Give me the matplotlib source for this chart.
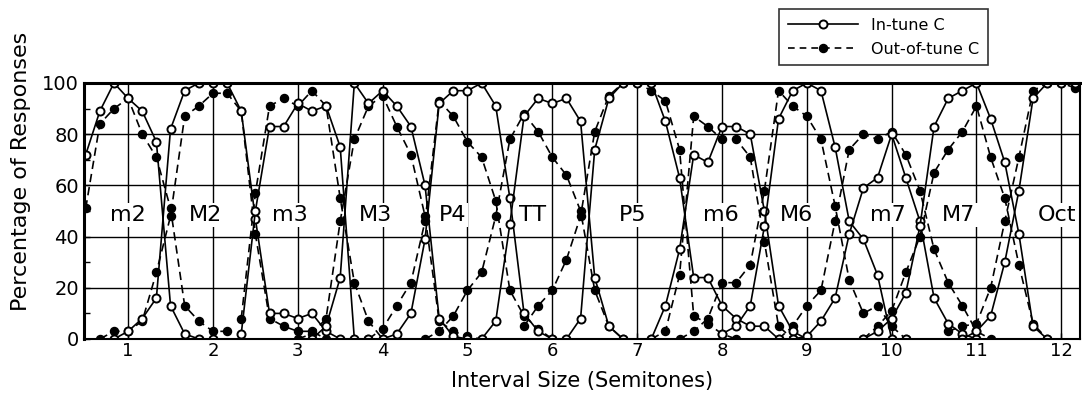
import matplotlib
matplotlib.use("Agg")
import matplotlib.pyplot as plt
from matplotlib.ticker import MultipleLocator

# stimuli were spaced 1/6 semitone apart, starting at 0.5
X0 = 0.5
STEP = 1 / 6

categories = ["m2", "M2", "m3", "M3", "P4", "TT", "P5", "m6", "M6", "m7", "M7", "Oct"]
label_x = [1.0, 1.91, 2.91, 3.92, 4.82, 5.77, 6.95, 7.99, 8.88, 9.96, 10.79, 11.95]
label_y = 48.5

# (index of first stimulus, % responses) for each category
m2_in = (0, [72, 89, 100, 94, 89, 77, 13, 2, 0, 0])
m2_out = (0, [51, 84, 90, 94, 80, 71, 51, 13, 7, 3, 3])
M2_in = (2, [0, 3, 8, 16, 82, 97, 100, 100, 100, 89, 47, 10, 10, 8, 10, 3, 0])
M2_out = (1, [0, 3, 3, 7, 26, 48, 87, 91, 96, 96, 89, 41, 8, 5, 3, 3, 0])
m3_in = (11, [2, 50, 83, 83, 92, 89, 91, 75, 0, 0])
m3_out = (11, [8, 57, 91, 94, 91, 97, 91, 55, 22, 7, 0])
M3_in = (16, [0, 5, 24, 100, 92, 97, 91, 83, 60, 8, 1, 0])
M3_out = (15, [0, 2, 8, 46, 78, 91, 95, 83, 72, 48, 7, 3, 1, 0])
P4_in = (21, [0, 2, 10, 39, 92, 97, 97, 100, 91, 55, 10, 3, 0])
P4_out = (20, [0, 4, 13, 22, 46, 93, 87, 77, 71, 54, 19, 9, 4, 0])
TT_in = (27, [0, 0, 7, 45, 87, 94, 92, 94, 85, 24, 5, 0])
TT_out = (24, [0, 3, 9, 19, 26, 48, 78, 88, 81, 71, 64, 50, 19, 5, 0])
P5_in = (34, [0, 8, 74, 94, 100, 100, 100, 85, 63, 24, 24, 13, 8, 5, 5, 0])
P5_out = (31, [5, 13, 19, 31, 48, 81, 95, 100, 100, 97, 93, 74, 9, 6, 2, 0])
m6_in = (40, [0, 13, 35, 72, 69, 83, 83, 80, 50, 13, 3, 0])
m6_out = (40, [0, 3, 25, 87, 83, 78, 78, 71, 38, 5, 0])
M6_in = (45, [2, 5, 13, 44, 86, 97, 100, 97, 75, 46, 39, 25, 0, 0])
M6_out = (42, [0, 3, 8, 22, 22, 29, 58, 97, 91, 87, 78, 52, 23, 10, 13, 5, 0])
m7_in = (50, [0, 1, 7, 16, 41, 59, 63, 80, 63, 46, 16, 6, 2, 0])
m7_out = (49, [0, 5, 13, 19, 46, 74, 80, 78, 81, 72, 58, 35, 22, 13, 3, 0])
M7_in = (55, [0, 3, 8, 18, 44, 83, 94, 97, 100, 86, 69, 41, 5, 0])
M7_out = (55, [0, 5, 11, 26, 40, 65, 74, 81, 91, 71, 55, 29, 6, 0])
Oct_in = (62, [0, 3, 9, 30, 58, 94, 100, 100, 100])
Oct_out = (61, [3, 5, 6, 20, 46, 71, 97, 100, 100, 98])

in_tune = [m2_in, M2_in, m3_in, M3_in, P4_in, TT_in, P5_in, m6_in, M6_in, m7_in, M7_in, Oct_in]
out_tune = [m2_out, M2_out, m3_out, M3_out, P4_out, TT_out, P5_out, m6_out, M6_out, m7_out, M7_out, Oct_out]


def xs(curve):
    start, vals = curve
    return [X0 + (start + i) * STEP for i in range(len(vals))]


plt.rcParams["font.family"] = ["DejaVu Sans"]
fig = plt.figure(figsize=(10.82, 3.93), dpi=100)
ax = fig.add_axes([84 / 1082, 1 - 339 / 393, 996 / 1082, 256 / 393])

for c in out_tune:
    ax.plot(xs(c), c[1], color="black", lw=1.2, ls=(0, (5, 3)), marker="o",
            ms=5.8, mfc="black", mec="black", zorder=4)
for c in in_tune:
    ax.plot(xs(c), c[1], color="black", lw=1.2, ls="-", marker="o",
            ms=5.8, mfc="white", mec="black", mew=1.4, zorder=5)

for name, lx in zip(categories, label_x):
    ax.text(lx, label_y, name, ha="center", va="center", fontsize=16, zorder=3,
            bbox=dict(boxstyle="square,pad=0.1", fc="white", ec="none"))

ax.set_xlim(0.48, 12.22)
ax.set_ylim(0, 100)
ax.set_xticks(range(1, 13))
ax.set_yticks(range(0, 101, 20))
ax.yaxis.set_minor_locator(MultipleLocator(10))
ax.grid(True, which="major", color="black", lw=1.0, zorder=1)
ax.tick_params(axis="both", which="both", direction="in", length=4, width=1, labelsize=14)
ax.tick_params(axis="x", labelsize=13, pad=2)
for s in ax.spines.values():
    s.set_linewidth(1.5)
    s.set_zorder(6)
ax.spines["top"].set_linewidth(2.2)
ax.spines["left"].set_linewidth(2.2)

ax.set_ylabel("Percentage of Responses", fontsize=16)
ax.yaxis.set_label_coords(-0.053, 0.655)
ax.set_xlabel("Interval Size (Semitones)", fontsize=15, labelpad=8)

h_in, = ax.plot([], [], color="black", lw=1.2, ls="-", marker="o", ms=5.8,
                mfc="white", mec="black", mew=1.4)
h_out, = ax.plot([], [], color="black", lw=1.2, ls=(0, (4, 3)), marker="o", ms=5.8,
                 mfc="black", mec="black")
leg = fig.legend([h_in, h_out], ["In-tune C", "Out-of-tune C"], loc="upper left",
                 bbox_to_anchor=(779 / 1082, 1 - 9 / 393), fontsize=11.5,
                 handlelength=4.4, frameon=True, fancybox=False, borderpad=0.55,
                 labelspacing=0.55, handletextpad=0.8, borderaxespad=0)
leg.get_frame().set_edgecolor("black")
leg.get_frame().set_linewidth(1.2)

fig.savefig("out.png", dpi=100)
